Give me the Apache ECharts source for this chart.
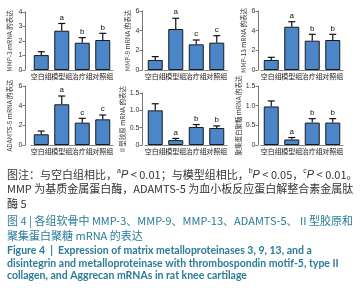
<!DOCTYPE html>
<html><head><meta charset="utf-8">
<script src="https://cdn.jsdelivr.net/npm/echarts@6/dist/echarts.min.js"></script>
<style>html,body{margin:0;padding:0;background:#fff}#c{width:363px;height:300px}</style>
</head><body><div id="c"></div>
<script>
const categories = ['空白组', '模型组', '治疗组', '对照组'];

const mmp3 = [1.03, 2.71, 1.88, 2.07];
const mmp3Err = [0.23, 0.50, 0.35, 0.46];
const mmp3Sig = ['', 'a', 'b', 'b'];

const mmp9 = [1.02, 4.17, 2.61, 2.78];
const mmp9Err = [0.34, 1.09, 0.44, 0.71];
const mmp9Sig = ['', 'a', 'c', 'c'];

const mmp13 = [1.02, 4.40, 2.98, 3.05];
const mmp13Err = [0.27, 0.51, 0.65, 0.58];
const mmp13Sig = ['', 'a', 'b', 'b'];

const adamts5 = [1.09, 4.14, 2.27, 2.61];
const adamts5Err = [0.33, 0.84, 0.44, 0.44];
const adamts5Sig = ['', 'a', 'c', 'c'];

const col2 = [1.00, 0.14, 0.52, 0.49];
const col2Err = [0.19, 0.05, 0.07, 0.06];
const col2Sig = ['', 'a', 'b', 'b'];

const acan = [0.98, 0.14, 0.57, 0.57];
const acanErr = [0.14, 0.05, 0.10, 0.10];
const acanSig = ['', 'a', 'b', 'b'];

const yNames = ['MMP-3 mRNA 的表达', 'MMP-9 mRNA 的表达', 'MMP-13 mRNA 的表达',
                'ADAMTS-5 mRNA 的表达', 'II 型胶原 mRNA 的表达', '聚集蛋白聚糖 mRNA 的表达'];
const yMax = [4, 6, 6, 6, 1.5, 1.5];
const yInterval = [1, 2, 2, 2, 0.5, 0.5];

const values = [mmp3, mmp9, mmp13, adamts5, col2, acan];
const errs = [mmp3Err, mmp9Err, mmp13Err, adamts5Err, col2Err, acanErr];
const sigs = [mmp3Sig, mmp9Sig, mmp13Sig, adamts5Sig, col2Sig, acanSig];

// layout (style)
const layout = [
  {left: 31, top: 12, height: 58, offset: 6},
  {left: 145, top: 11, height: 59, offset: 3},
  {left: 261, top: 11, height: 59, offset: 3},
  {left: 31, top: 86, height: 59, offset: 6},
  {left: 145, top: 93, height: 52, offset: 3},
  {left: 261, top: 86, height: 59, offset: 3}
];

const grids = [], xAxes = [], yAxes = [], series = [];
layout.forEach((L, i) => {
  grids.push({left: L.left, top: L.top, width: 82, height: L.height});
  xAxes.push({
    type: 'category', gridIndex: i, data: categories,
    axisLine: {lineStyle: {color: '#888', width: 1.2}},
    axisTick: {show: false},
    axisLabel: {interval: 0, fontSize: 7, color: '#222', margin: 3, fontFamily: 'Noto Sans CJK SC'}
  });
  yAxes.push({
    type: 'value', gridIndex: i, min: 0, max: yMax[i], interval: yInterval[i],
    offset: L.offset,
    name: yNames[i], nameLocation: 'middle', nameRotate: 90, nameGap: i % 3 === 0 ? 12 : 11,
    nameTextStyle: {fontSize: 6.5, color: '#333', fontFamily: 'Noto Sans CJK SC'},
    axisLine: {show: true, lineStyle: {color: '#777', width: 1}},
    axisTick: {show: true, length: 2.5, lineStyle: {color: '#777'}},
    axisLabel: {fontSize: 7, color: '#333', margin: 2.5,
      formatter: v => (yInterval[i] < 1 ? (v === 0 ? '0' : v.toFixed(1)) : String(v))},
    splitLine: {show: false}
  });
  series.push({
    type: 'bar', xAxisIndex: i, yAxisIndex: i, data: values[i], barWidth: 15,
    itemStyle: {color: '#4a86c8', borderColor: '#1a1a1a', borderWidth: 1},
    z: 2
  });
  const sg = sigs[i];
  series.push({
    type: 'custom', xAxisIndex: i, yAxisIndex: i, z: 3,
    data: values[i].map((v, k) => [k, v, errs[i][k]]),
    renderItem: function (params, api) {
      const k = api.value(0), v = api.value(1), e = api.value(2);
      const p0 = api.coord([k, v]);
      const p1 = api.coord([k, v + e]);
      const children = [
        {type: 'line', shape: {x1: p0[0], y1: p0[1], x2: p1[0], y2: p1[1]}, style: {stroke: '#111', lineWidth: 1.2}},
        {type: 'line', shape: {x1: p1[0] - 3.5, y1: p1[1], x2: p1[0] + 3.5, y2: p1[1]}, style: {stroke: '#111', lineWidth: 1.2}}
      ];
      const t = sg[params.dataIndex];
      if (t) children.push({type: 'text', style: {text: t, x: p1[0], y: p1[1] - 2, align: 'center', verticalAlign: 'bottom', fontSize: 8, fill: '#111', fontFamily: 'Liberation Sans'}});
      return {type: 'group', children: children};
    }
  });
});

const capColor = '#333';
const titleColor = '#2a7c99';
const cjk = 'Noto Sans CJK SC';
const en = 'Lato';
const graphics = [
  {type: 'text', left: 7, top: 168, style: {
    text: '{n|图注：与空白组相比，}{s|a}{i|P}{n| < 0.01；与模型组相比，}{s|b}{i|P}{n| < 0.05，}{s|c}{i|P}{n| < 0.01。}',
    rich: {
      n: {fontSize: 11, fill: capColor, fontFamily: cjk},
      i: {fontSize: 11, fill: capColor, fontStyle: 'italic', fontFamily: 'Liberation Sans'},
      s: {fontSize: 7, fill: capColor, verticalAlign: 'top', padding: [0, 0, 6, 0], fontFamily: 'Liberation Sans'}
    }}},
  {type: 'text', left: 7, top: 183, style: {text: 'MMP 为基质金属蛋白酶，ADAMTS-5 为血小板反应蛋白解整合素金属肽', fontSize: 11, fill: capColor, fontFamily: cjk}},
  {type: 'text', left: 7, top: 198, style: {text: '酶 5', fontSize: 11, fill: capColor, fontFamily: cjk}},
  {type: 'text', left: 7, top: 215, style: {text: '图 4 | 各组软骨中 MMP-3、MMP-9、MMP-13、ADAMTS-5、 II 型胶原和', fontSize: 11, fill: titleColor, fontFamily: cjk}},
  {type: 'text', left: 7, top: 230, style: {text: '聚集蛋白聚糖 mRNA 的表达', fontSize: 11, fill: titleColor, fontFamily: cjk}},
  {type: 'text', left: 7, top: 245, style: {text: 'Figure 4  |  Expression of matrix metalloproteinases 3, 9, 13, and a', fontSize: 10.5, fontWeight: 'bold', fill: titleColor, fontFamily: en}},
  {type: 'text', left: 7, top: 258, style: {text: 'disintegrin and metalloproteinase with thrombospondin motif-5, type II', fontSize: 10.5, fontWeight: 'bold', fill: titleColor, fontFamily: en}},
  {type: 'text', left: 7, top: 270, style: {text: 'collagen, and Aggrecan mRNAs in rat knee cartilage', fontSize: 10.5, fontWeight: 'bold', fill: titleColor, fontFamily: en}}
];

const chart = echarts.init(document.getElementById('c'), null, {renderer: 'canvas'});
chart.setOption({
  animation: false,
  grid: grids, xAxis: xAxes, yAxis: yAxes, series: series, graphic: graphics
});
</script>
</body></html>
